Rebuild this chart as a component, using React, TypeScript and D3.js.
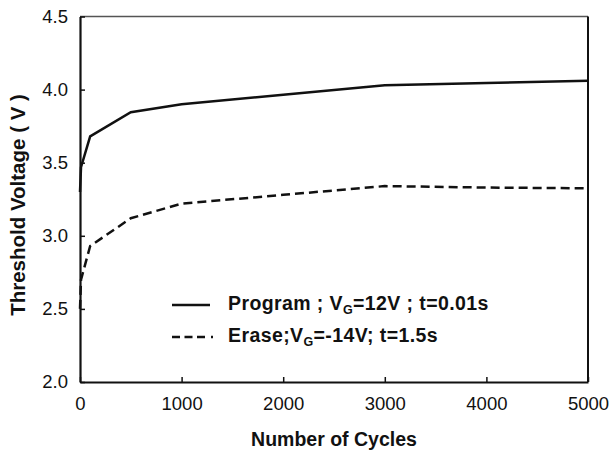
import React, { useEffect, useRef } from "react";
import * as d3 from "d3";

// Threshold voltage versus program/erase cycle count
const cycles = [0, 10, 100, 500, 1000, 2000, 3000, 4000, 5000];
const programVt = [3.3, 3.47, 3.68, 3.845, 3.9, 3.965, 4.03, 4.045, 4.06];
const eraseVt = [2.5, 2.7, 2.93, 3.12, 3.22, 3.28, 3.34, 3.33, 3.325];

const xTicks = [0, 1000, 2000, 3000, 4000, 5000];
const yTicks = [2.0, 2.5, 3.0, 3.5, 4.0, 4.5];

const W = 611;
const H = 450;
const M = { left: 80, right: 588, top: 16.5, bottom: 382 };
const FONT = "'Liberation Sans', Arial, Helvetica, sans-serif";

export default function App() {
  const ref = useRef<SVGSVGElement | null>(null);

  useEffect(() => {
    const svg = d3.select(ref.current);
    svg.selectAll("*").remove();

    const x = d3.scaleLinear().domain([0, 5000]).range([M.left, M.right]);
    const y = d3.scaleLinear().domain([2.0, 4.5]).range([M.bottom, M.top]);

    svg.append("rect").attr("width", W).attr("height", H).attr("fill", "#fff");

    // frame: gray top, black right
    svg
      .append("line")
      .attr("x1", M.left)
      .attr("x2", M.right)
      .attr("y1", M.top)
      .attr("y2", M.top)
      .attr("stroke", "#555")
      .attr("stroke-width", 1.6);
    svg
      .append("line")
      .attr("x1", M.right)
      .attr("x2", M.right)
      .attr("y1", M.top)
      .attr("y2", M.bottom)
      .attr("stroke", "#111")
      .attr("stroke-width", 2);

    // axes with inward ticks
    const xAxis = d3
      .axisBottom(x)
      .tickValues(xTicks)
      .tickSizeInner(-5)
      .tickSizeOuter(0)
      .tickPadding(15)
      .tickFormat(d3.format("d"));
    const gx = svg.append("g").attr("transform", `translate(0,${M.bottom})`).call(xAxis);
    gx.select(".domain").attr("stroke", "#111").attr("stroke-width", 2.2);
    gx.selectAll(".tick line").attr("stroke", "#111").attr("stroke-width", 1.5);
    gx.selectAll(".tick text")
      .attr("font-family", FONT)
      .attr("font-size", 18.5)
      .attr("fill", "#111");

    const yAxis = d3
      .axisLeft(y)
      .tickValues(yTicks)
      .tickSizeInner(-5)
      .tickSizeOuter(0)
      .tickPadding(12)
      .tickFormat(d3.format(".1f"));
    const gy = svg.append("g").attr("transform", `translate(${M.left},0)`).call(yAxis);
    gy.select(".domain").attr("stroke", "#111").attr("stroke-width", 2.2);
    gy.selectAll(".tick line").attr("stroke", "#111").attr("stroke-width", 1.5);
    gy.selectAll(".tick text")
      .attr("font-family", FONT)
      .attr("font-size", 18.5)
      .attr("fill", "#111");

    const line = d3
      .line<[number, number]>()
      .x((d) => x(d[0]))
      .y((d) => y(d[1]));

    const prog = cycles.map((c, i) => [c, programVt[i]] as [number, number]);
    const erase = cycles.map((c, i) => [c, eraseVt[i]] as [number, number]);

    svg
      .append("path")
      .attr("d", line(prog))
      .attr("fill", "none")
      .attr("stroke", "#111")
      .attr("stroke-width", 2.5);
    svg
      .append("path")
      .attr("d", line(erase))
      .attr("fill", "none")
      .attr("stroke", "#111")
      .attr("stroke-width", 2.5)
      .attr("stroke-dasharray", "9,5");

    // legend
    const leg = svg
      .append("g")
      .attr("font-family", FONT)
      .attr("font-weight", "bold")
      .attr("fill", "#111");
    leg
      .append("line")
      .attr("x1", 172)
      .attr("x2", 210)
      .attr("y1", 305)
      .attr("y2", 305)
      .attr("stroke", "#111")
      .attr("stroke-width", 2.5);
    leg
      .append("line")
      .attr("x1", 172)
      .attr("x2", 214)
      .attr("y1", 337)
      .attr("y2", 337)
      .attr("stroke", "#111")
      .attr("stroke-width", 2.5)
      .attr("stroke-dasharray", "8,4.5,8,4.5,8,6,2,20");

    const t1 = leg
      .append("text")
      .attr("x", 228)
      .attr("y", 310)
      .attr("font-size", 19.5)
      .attr("letter-spacing", 0.4);
    t1.append("tspan").text("Program ; V");
    t1.append("tspan").attr("font-size", 12.5).attr("dy", 4).text("G");
    t1.append("tspan").attr("dy", -4).text("=12V ; t=0.01s");

    const t2 = leg
      .append("text")
      .attr("x", 228)
      .attr("y", 342)
      .attr("font-size", 19.5)
      .attr("letter-spacing", 0.4);
    t2.append("tspan").text("Erase;V");
    t2.append("tspan").attr("font-size", 12.5).attr("dy", 4).text("G");
    t2.append("tspan").attr("dy", -4).text("=-14V; t=1.5s");

    // axis titles
    svg
      .append("text")
      .attr("x", 334)
      .attr("y", 446)
      .attr("text-anchor", "middle")
      .attr("font-family", FONT)
      .attr("font-weight", "bold")
      .attr("font-size", 19.5)
      .attr("fill", "#111")
      .text("Number of Cycles");
    svg
      .append("text")
      .attr("transform", "translate(25,205) rotate(-90)")
      .attr("text-anchor", "middle")
      .attr("font-family", FONT)
      .attr("font-weight", "bold")
      .attr("font-size", 20.5)
      .attr("fill", "#111")
      .text("Threshold Voltage ( V )");
  }, []);

  return (
    <svg
      ref={ref}
      width={W}
      height={H}
      style={{ position: "absolute", left: 0, top: 0, display: "block" }}
    />
  );
}
